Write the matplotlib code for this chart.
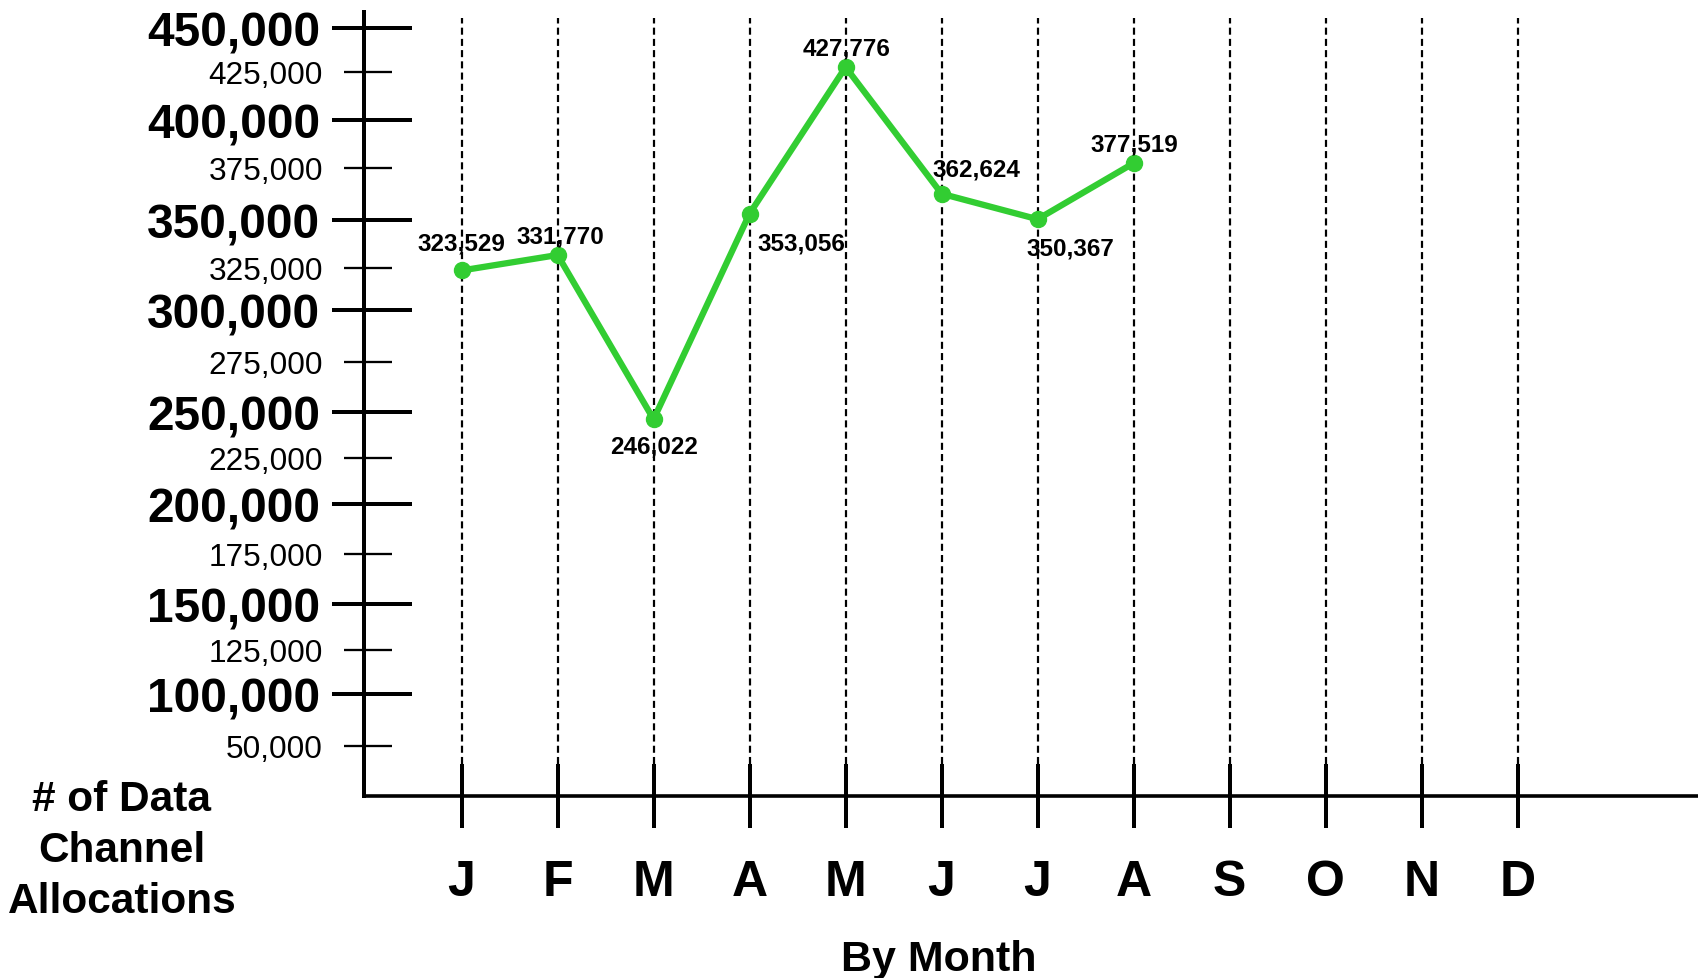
import numpy as np
import matplotlib
matplotlib.use("Agg")
import matplotlib.pyplot as plt

plt.rcParams["font.family"] = ["Liberation Sans", "DejaVu Sans"]

# ---- data -------------------------------------------------------------
months = ["J", "F", "M", "A", "M", "J", "J", "A", "S", "O", "N", "D"]
allocations = [323529, 331770, 246022, 353056, 427776, 362624, 350367, 377519]

major_ticks = [100000, 150000, 200000, 250000, 300000, 350000, 400000, 450000]
minor_ticks = [50000, 125000, 175000, 225000, 275000, 325000, 375000, 425000]

x_title = "By Month"
y_title = "# of Data\nChannel\nAllocations"

# ---- layout -------------------------------------------------------------
# The value axis is hand-spaced: each value is paired with its pixel height
# above the baseline, and a piecewise-linear scale is built from the pairs.
axis_values = [0, 50000, 100000, 125000, 150000, 175000, 200000, 225000,
               250000, 275000, 300000, 325000, 350000, 375000, 400000,
               425000, 450000]
axis_heights = [0, 50, 102, 146, 192, 242, 292, 338, 384, 434, 486, 528,
                576, 628, 676, 724, 768]

# value-label offsets from each point, in pixels (x right, y up)
label_offsets = [(0, 30), (3, 22), (0, -24), (52, -27),
                 (1, 22), (35, 27), (33, -26), (1, 22)]

W, H = 1699, 979
PX = 72 / 100  # points per pixel at dpi 100

AX_LEFT, AX_BOTTOM, AX_TOP = 364, 797, 13
MONTH0, MONTH_STEP = 461.6, 96.0

GREEN = "#32CD32"


def _interp_extrap(x, xp, fp):
    x = np.asarray(x, dtype=float)
    xp = np.asarray(xp, dtype=float)
    fp = np.asarray(fp, dtype=float)
    y = np.interp(x, xp, fp)
    lo = (fp[1] - fp[0]) / (xp[1] - xp[0])
    hi = (fp[-1] - fp[-2]) / (xp[-1] - xp[-2])
    y = np.where(x < xp[0], fp[0] + (x - xp[0]) * lo, y)
    y = np.where(x > xp[-1], fp[-1] + (x - xp[-1]) * hi, y)
    return y


def forward(v):
    return _interp_extrap(v, axis_values, axis_heights)


def inverse(h):
    return _interp_extrap(h, axis_heights, axis_values)


fig = plt.figure(figsize=(W / 100, H / 100), dpi=100)
fig.patch.set_facecolor("white")

ax_h = AX_BOTTOM - AX_TOP
ax_w = W - AX_LEFT
ax = fig.add_axes([AX_LEFT / W, (H - AX_BOTTOM) / H, ax_w / W, ax_h / H])

ax.set_yscale("function", functions=(forward, inverse))
ax.set_ylim(float(inverse(0)), float(inverse(ax_h)))
ax.set_xlim((AX_LEFT - MONTH0) / MONTH_STEP, (W - MONTH0) / MONTH_STEP)

ax.set_xticks([])
ax.set_yticks([])
ax.set_yticks([], minor=True)
ax.tick_params(which="both", left=False, bottom=False,
               labelleft=False, labelbottom=False)

for side in ("top", "right"):
    ax.spines[side].set_visible(False)
ax.spines["left"].set_linewidth(4 * PX)
ax.spines["bottom"].set_linewidth(3.6 * PX)
for side in ("left", "bottom"):
    ax.spines[side].set_capstyle("projecting")
    ax.spines[side].set_color("black")

ytrans = ax.get_yaxis_transform()
xtrans = ax.get_xaxis_transform()

# value-axis ticks and labels
for v in major_ticks:
    ax.plot([(332 - AX_LEFT) / ax_w, (412 - AX_LEFT) / ax_w], [v, v],
            transform=ytrans, color="black", lw=4 * PX, clip_on=False,
            solid_capstyle="butt")
    ax.text((320.5 - AX_LEFT) / ax_w, v, f"{v:,}", transform=ytrans,
            ha="right", va="center_baseline", fontsize=34.5,
            fontweight="bold", clip_on=False)
for v in minor_ticks:
    ax.plot([(344 - AX_LEFT) / ax_w, (392 - AX_LEFT) / ax_w], [v, v],
            transform=ytrans, color="black", lw=2.3 * PX, clip_on=False,
            solid_capstyle="butt")
    ax.text((323 - AX_LEFT) / ax_w, v, f"{v:,}", transform=ytrans,
            ha="right", va="center_baseline", fontsize=22.8,
            clip_on=False)

# month guides, ticks and labels
guide_lo = (AX_BOTTOM - 765) / ax_h
guide_hi = (AX_BOTTOM - 19) / ax_h
tick_lo = (AX_BOTTOM - 829) / ax_h
label_y = (AX_BOTTOM - 878) / ax_h
for i, m in enumerate(months):
    ax.plot([i, i], [guide_lo, guide_hi], transform=xtrans, color="black",
            lw=2.2 * PX, linestyle=(0, (3.2, 1.9)), zorder=1, clip_on=False)
    ax.plot([i, i], [tick_lo, guide_lo], transform=xtrans, color="black",
            lw=4 * PX, zorder=2, clip_on=False, solid_capstyle="butt")
    ax.text(i, label_y, m, transform=xtrans, ha="center",
            va="center_baseline", fontsize=36, fontweight="bold",
            clip_on=False)

# the allocation series
xs = np.arange(len(allocations))
ax.plot(xs, allocations, color=GREEN, lw=6.3 * PX, marker="o",
        markersize=16 * PX, zorder=4, clip_on=False,
        solid_joinstyle="round", solid_capstyle="round")

for i, (v, (dx, dy)) in enumerate(zip(allocations, label_offsets)):
    ax.annotate(f"{v:,}", (i, v), xytext=(dx * PX, dy * PX),
                textcoords="offset points", ha="center",
                va="center_baseline", fontsize=17.5, fontweight="bold",
                zorder=5, annotation_clip=False)

# axis titles
fig.text(939 / W, 1 - 956 / H, x_title, ha="center", va="center_baseline",
         fontsize=31, fontweight="bold")
fig.text(122 / W, 1 - 851 / H, y_title, ha="center", va="center",
         multialignment="center", fontsize=30.5, fontweight="bold",
         linespacing=1.36)

fig.savefig("out.png", dpi=100, facecolor="white")
